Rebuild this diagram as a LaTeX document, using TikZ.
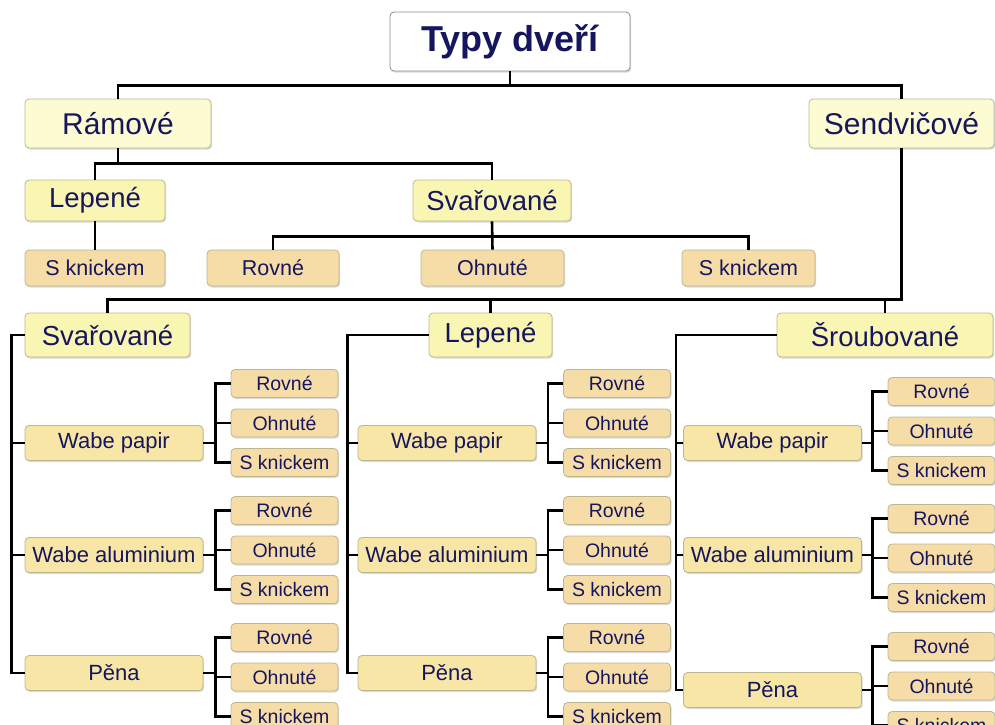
\documentclass[tikz,border=0pt]{standalone}
\usepackage{fontspec}
\setmainfont{Liberation Sans}
\usetikzlibrary{shadows}
\definecolor{navy}{HTML}{16165E}
\definecolor{boxline}{HTML}{BDB78F}
\definecolor{paleyellow}{HTML}{FCFBD2}
\definecolor{midyellow}{HTML}{F9F5B2}
\definecolor{wabetan}{HTML}{F8E6A6}
\definecolor{leaftan}{HTML}{F6DCA6}
\begin{document}
\begin{tikzpicture}[x=1pt,y=-1pt,line width=2.6pt,line join=miter,
  box/.style={draw=boxline,line width=.8pt,rounded corners=4pt,inner sep=0pt,text=navy,
    drop shadow={shadow xshift=1.2pt,shadow yshift=-1.5pt,opacity=.3}},
  titlebox/.style={box,draw=black!45,fill=white,font=\fontsize{36}{40}\selectfont\bfseries},
  lvla/.style={box,fill=paleyellow,minimum height=49,font=\fontsize{30}{34}\selectfont},
  lvlb/.style={box,fill=midyellow,font=\fontsize{27.5}{30}\selectfont},
  topleaf/.style={box,fill=leaftan,minimum height=36,font=\fontsize{21.5}{24}\selectfont},
  wabebox/.style={box,fill=wabetan,minimum width=178,minimum height=35,font=\fontsize{22}{24}\selectfont},
  leafbox/.style={box,fill=leaftan,minimum width=107,minimum height=28,font=\fontsize{19.5}{22}\selectfont}]
\useasboundingbox (0,0) rectangle (995,724);
\node[titlebox,minimum width=240,minimum height=59] (typy) at (510,41.5) {Typy dveří};
\node[lvla,minimum width=186] (ram) at (118,123.5) {Rámové};
\node[lvla,minimum width=185] (sen) at (901.5,123.5) {Sendvičové};
\node[lvlb,minimum width=140,minimum height=41] (lep) at (95,200.5) {Lepené};
\node[lvlb,minimum width=158,minimum height=41] (sva) at (492,200.5) {Svařované};
\node[topleaf,minimum width=140] (lep-s) at (95,268) {S knickem};
\node[topleaf,minimum width=132] (sva-r) at (273,268) {Rovné};
\node[topleaf,minimum width=143] (sva-o) at (492.5,268) {Ohnuté};
\node[topleaf,minimum width=133] (sva-s) at (748.5,268) {S knickem};
\node[lvlb,minimum width=165,minimum height=44] (bsv) at (107.5,335) {Svařované};
\node[lvlb,minimum width=123,minimum height=44] (blep) at (490.5,335) {Lepené};
\node[lvlb,minimum width=216,minimum height=44] (bsr) at (885,335) {Šroubované};
\draw (typy.south) -- ++(0,15);
\draw (ram.north) -- ++(0,-13) -| (sen.north);
\draw (ram.south) -- ++(0,16);
\draw (lep.north) -- ++(0,-16) -| (sva.north);
\draw (lep.south) -- (lep-s.north);
\draw (sva.south) -- (sva-o.north);
\draw (sva-r.north) -- ++(0,-13) -| (sva-s.north);
\draw (bsv.north) -- ++(0,-13) -| (sen.south);
\draw (blep.north) -- ++(0,-13);
\draw (bsr.north) -- ++(0,-13);
\foreach \n/\t/\wx/\wy/\lx/\ly in {
  a1/Wabe papir/114/443/284.5/423, a2/Wabe aluminium/114/555/284.5/550, a3/Pěna/114/673/284.5/677,
  b1/Wabe papir/447/443/617/423, b2/Wabe aluminium/447/555/617/550, b3/Pěna/447/673/617/677,
  c1/Wabe papir/772.5/443/941.5/431, c2/Wabe aluminium/772.5/555/941.5/558, c3/Pěna/772.5/690/941.5/686}
{
  \node[wabebox] (\n) at (\wx,\wy) {\t};
  \foreach \k/\lt [count=\j from -1] in {r/Rovné,o/Ohnuté,s/S knickem}
    \node[leafbox] (\n-\k) at (\lx,{\ly+39.5*\j}) {\lt};
  \draw (\n-r.west) -- ++(-15,0) coordinate (\n-b) |- (\n-s.west);
  \draw (\n-o.west) -- (\n-o.west -| \n-b);
  \draw (\n.east) -- (\n.east -| \n-b);
}
\draw (a3.west) -- ++(-13,0) coordinate (ta) |- (bsv.west);
\draw (b3.west) -- ++(-10,0) coordinate (tb) |- (blep.west);
\draw (c3.west) -- ++(-7,0) coordinate (tc) |- (bsr.west);
\foreach \n/\t in {a1/ta,a2/ta,b1/tb,b2/tb,c1/tc,c2/tc}
  \draw (\n.west) -- (\n.west -| \t);
\end{tikzpicture}
\end{document}
